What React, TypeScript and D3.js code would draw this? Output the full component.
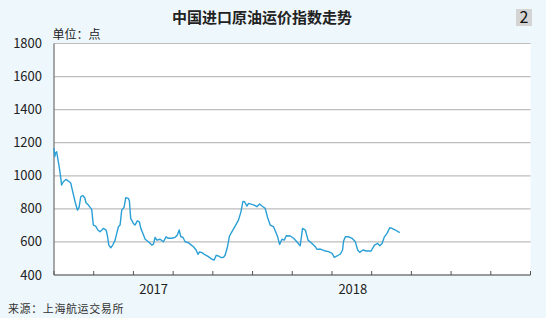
import React from "react";
import * as d3 from "d3";

// x: months since Jan 2017, y: index points
const months = [
  0.0, 0.04, 0.1, 0.16, 0.26, 0.36, 0.46, 0.56, 0.72, 0.92, 1.01, 1.13, 1.27, 1.41, 1.51, 1.61, 1.73, 1.85, 1.93,
  2.07, 2.27, 2.37, 2.51, 2.64, 2.77, 2.88, 2.97, 3.14, 3.21, 3.3, 3.42, 3.54, 3.68, 3.78, 3.88, 3.98, 4.08,
  4.22, 4.32, 4.48, 4.54, 4.62, 4.78, 4.88, 5.02, 5.14, 5.23, 5.35, 5.49, 5.69, 5.89, 5.99, 6.09, 6.19, 6.39,
  6.59, 6.75, 6.89, 7.1, 7.3, 7.43, 7.54, 7.64, 7.76, 7.9, 8.1, 8.2, 8.4, 8.56, 8.67, 8.76, 8.91, 9.11, 9.3,
  9.51, 9.65, 9.77, 9.91, 10.07, 10.21, 10.31, 10.45, 10.57, 10.72, 10.91, 11.11, 11.26, 11.38, 11.48, 11.62,
  11.72, 11.86, 12.06, 12.22, 12.38, 12.52, 12.72, 12.86, 13.02, 13.22, 13.43, 13.47, 13.59, 13.73, 13.87,
  13.99, 14.23, 14.43, 14.63, 14.83, 14.97, 15.14, 15.3, 15.54, 15.74, 15.84, 16.04, 16.28, 16.54, 16.75,
  16.88, 17.05, 17.25, 17.38, 17.44, 17.55, 17.75, 17.95, 18.15, 18.29, 18.41, 18.61, 18.81, 19.1, 19.3,
  19.5, 19.62, 19.76, 19.9, 20.06, 20.22, 20.36, 20.56, 20.82,
];
const values = [
  1167, 1115, 1139, 1145, 1085, 1024, 944, 964, 978, 964, 956, 903, 843, 793, 809, 873, 881, 867, 837,
  823, 797, 702, 696, 672, 662, 672, 682, 672, 642, 581, 565, 581, 611, 652, 692, 702, 793,
  809, 867, 863, 849, 742, 712, 702, 728, 722, 682, 652, 616, 601, 581, 587, 628, 611, 616,
  601, 631, 622, 622, 628, 642, 672, 631, 628, 601, 595, 587, 571, 551, 525, 539, 535, 521, 511,
  495, 491, 519, 515, 505, 507, 521, 571, 636, 662, 696, 732, 782, 845, 843, 817,
  833, 829, 823, 813, 829, 817, 803, 749, 702, 692, 642, 631, 585, 616, 611,
  637, 636, 622, 601, 577, 682, 672, 611, 591, 571, 555, 557, 547, 541, 531,
  507, 515, 527, 551, 605, 631, 631, 622, 601, 551, 537, 551, 545, 545, 581,
  591, 577, 591, 631, 652, 686, 682, 672, 656,
];
const yTicks = [400, 600, 800, 1000, 1200, 1400, 1600, 1800];
const yearLabels = ["2017", "2018"];
const yearCenters = [6, 18];
const xDomainEnd = 28.7;
const xTickCount = 12;

const title = "中国进口原油运价指数走势";
const unitLabel = "单位：点";
const sourceLabel = "来源：上海航运交易所";
const badge = "2";

export default function App() {
  const W = 546;
  const H = 318;
  const left = 54;
  const right = 530.5;
  const top = 43.5;
  const bottom = 275;

  const x = d3.scaleLinear().domain([0, xDomainEnd]).range([left, right]);
  const y = d3.scaleLinear().domain([400, 1800]).range([bottom, top]);
  const data = months.map((m, i) => [m, values[i]] as [number, number]);
  const line = d3
    .line<[number, number]>()
    .x((d) => x(d[0]))
    .y((d) => y(d[1]));
  const xTicks = d3.range(xTickCount + 1).map((i) => (i * xDomainEnd) / xTickCount);
  const font = "'Noto Sans CJK SC', 'Noto Sans', sans-serif";

  return (
    <svg
      width={W}
      height={H}
      style={{ position: "absolute", left: 0, top: 0, display: "block" }}
      fontFamily={font}
    >
      <rect x={0} y={0} width={W} height={H} fill="#eef7fc" />
      <rect x={left} y={top} width={right - left} height={bottom - top} fill="#ffffff" />
      {yTicks
        .filter((t) => t !== 400)
        .map((t) => (
          <line key={t} x1={left} x2={right} y1={y(t)} y2={y(t)} stroke="#bdbdbd" strokeWidth={1.2} />
        ))}
      {yTicks.map((t) => (
        <text key={"l" + t} x={42} y={y(t)} dy="0.35em" textAnchor="end" fontSize={13} fill="#222">
          {t}
        </text>
      ))}
      <line x1={left} x2={left} y1={top} y2={bottom} stroke="#7a7a7a" strokeWidth={1.3} />
      <line x1={left} x2={right} y1={bottom} y2={bottom} stroke="#7a7a7a" strokeWidth={1.3} />
      {xTicks.map((t, i) => (
        <line key={"t" + i} x1={x(t)} x2={x(t)} y1={bottom} y2={bottom - 4} stroke="#555" strokeWidth={1} />
      ))}
      {yearLabels.map((l, i) => (
        <text key={l} x={x(yearCenters[i])} y={294} textAnchor="middle" fontSize={13} fill="#222">
          {l}
        </text>
      ))}
      <path d={line(data) || ""} fill="none" stroke="#2a9fd6" strokeWidth={1.4} strokeLinejoin="round" />
      <text x={262} y={23} textAnchor="middle" fontSize={15} fontWeight="bold" fill="#222">
        {title}
      </text>
      <text x={52.5} y={39} fontSize={12} fill="#222">
        {unitLabel}
      </text>
      <rect x={516} y={9} width={16} height={17} fill="#d4d4d4" />
      <text x={524} y={23} textAnchor="middle" fontSize={16} fill="#111">
        {badge}
      </text>
      <text x={8} y={313} fontSize={11} fill="#333" letterSpacing={0.6}>
        {sourceLabel}
      </text>
    </svg>
  );
}
